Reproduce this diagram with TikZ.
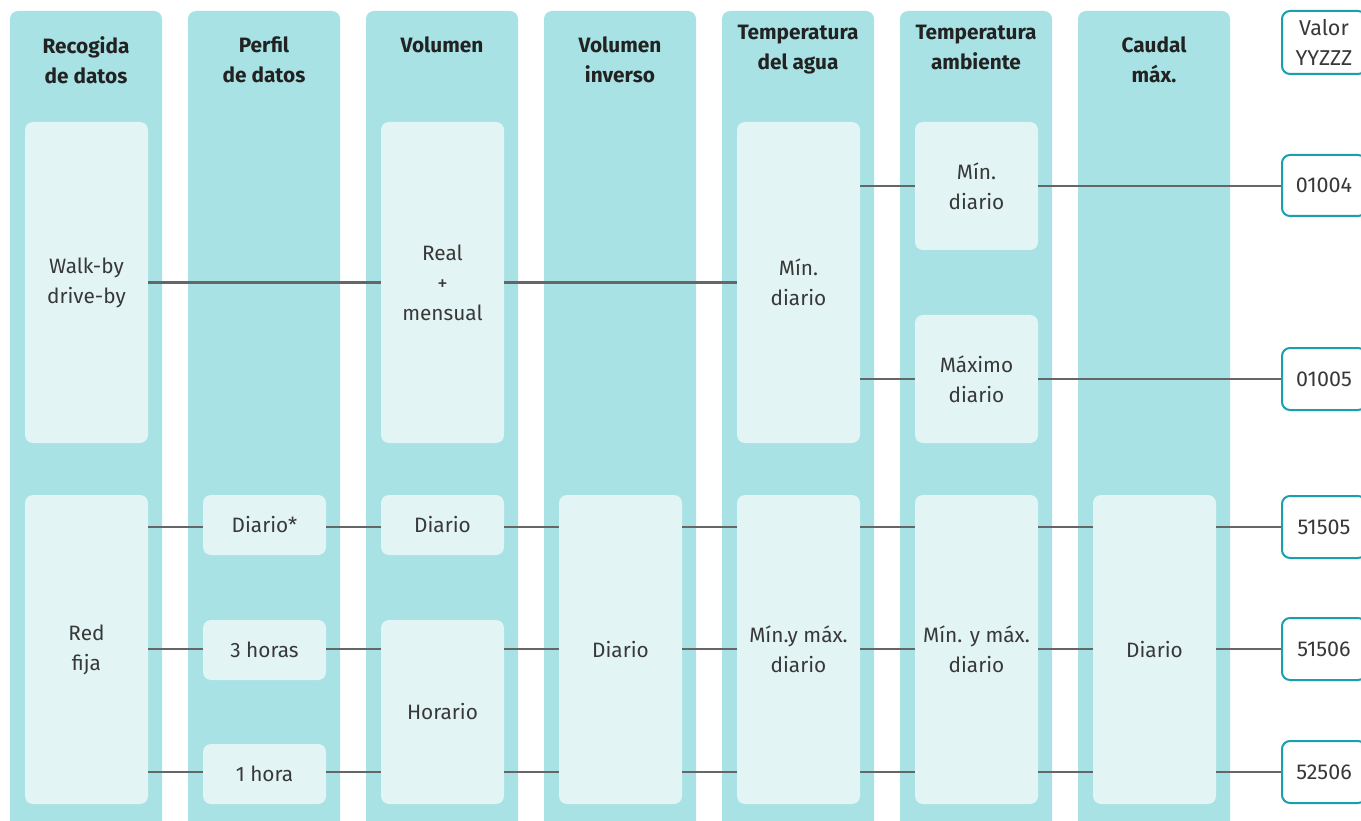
\documentclass[tikz,border=0pt]{standalone}
\usepackage{fontspec}
\setmainfont{Fira Sans}
\begin{document}
\begin{tikzpicture}[x=1pt,y=-1pt,
  colbg/.style={fill=colc,draw=none,rounded corners=8pt},
  inner/.style={fill=innerc,draw=none,rounded corners=8pt,inner sep=0pt,align=center,text=bodyc,font=\fontsize{20.8}{30}\selectfont},
  hdr/.style={align=center,text=hdrc,font=\fontsize{20.8}{30}\selectfont\bfseries},
  val/.style={draw=tealc,line width=2pt,fill=white,rounded corners=8pt,inner sep=0pt,align=center,text=bodyc,font=\fontsize{21.5}{30}\selectfont},
  conn/.style={draw=linec,line width=2.8pt}]
\definecolor{colc}{HTML}{A8E2E4}
\definecolor{innerc}{HTML}{E3F4F4}
\definecolor{bodyc}{HTML}{383838}
\definecolor{hdrc}{HTML}{222222}
\definecolor{tealc}{HTML}{1A9FAE}
\definecolor{linec}{HTML}{666666}
\useasboundingbox (0,0) rectangle (1361,821);
% columns
\foreach \i in {0,...,6}{
  \fill[colc,rounded corners=8pt] ({10+178*\i},11) rectangle ({162+178*\i},860);
}
% headers
\node[hdr] (h1) at (86,60) {Recogida\\de datos};
\node[hdr] (h2) at (264,60) {Perfil\\de datos};
\node[hdr] (h3) at (442,45) {Volumen};
\node[hdr] (h4) at (620,60) {Volumen\\inverso};
\node[hdr] (h5) at (798,50) {Temperatura\\del agua};
\node[hdr] (h6) at (976,47) {Temperatura\\ambiente};
\node[hdr] (h7) at (1154,60) {Caudal\\máx.};
% value boxes
\node[val,minimum width=84pt,minimum height=63pt] (vv) at (1324,42.5) {Valor\\YYZZZ};
\node[val,minimum width=84pt,minimum height=61pt] (v1) at (1324,185.5) {01004};
\node[val,minimum width=84pt,minimum height=62pt] (v2) at (1324,379) {01005};
\node[val,minimum width=84pt,minimum height=62pt] (v3) at (1324,527) {51505};
\node[val,minimum width=84pt,minimum height=62pt] (v4) at (1324,649) {51506};
\node[val,minimum width=84pt,minimum height=62pt] (v5) at (1324,772) {52506};
% inner boxes
\node[inner,minimum width=123pt,minimum height=321pt] (walk) at (86.5,282.5) {Walk-by\\drive-by};
\node[inner,minimum width=123pt,minimum height=309pt] (red) at (86.5,649.5) {Red\\fija};
\node[inner,minimum width=123pt,minimum height=60pt] (d2) at (264.5,525) {Diario*};
\node[inner,minimum width=123pt,minimum height=60pt] (h3h) at (264.5,650) {3 horas};
\node[inner,minimum width=123pt,minimum height=60pt] (h1h) at (264.5,774) {1 hora};
\node[inner,minimum width=123pt,minimum height=321pt] (real) at (442.5,282.5) {Real\\+\\mensual};
\node[inner,minimum width=123pt,minimum height=60pt] (d3) at (442.5,525) {Diario};
\node[inner,minimum width=123pt,minimum height=184pt] (hor) at (442.5,712) {Horario};
\node[inner,minimum width=123pt,minimum height=309pt] (d4) at (620.5,649.5) {Diario};
\node[inner,minimum width=123pt,minimum height=321pt] (m5) at (798.5,282.5) {Mín.\\diario};
\node[inner,minimum width=123pt,minimum height=309pt] (mm5) at (798.5,649.5) {Mín.y máx.\\diario};
\node[inner,minimum width=123pt,minimum height=128pt] (m6) at (976.5,186) {Mín.\\diario};
\node[inner,minimum width=123pt,minimum height=128pt] (x6) at (976.5,379) {Máximo\\diario};
\node[inner,minimum width=123pt,minimum height=309pt] (mm6) at (976.5,649.5) {Mín. y máx.\\diario};
\node[inner,minimum width=123pt,minimum height=309pt] (d7) at (1154.5,649.5) {Diario};
% connectors
\draw[conn] (walk.east) -- (real.west);
\draw[conn] (real.east) -- (m5.west);
\draw[conn] (m5.east |- m6.west) -- (m6.west);
\draw[conn] (m6.east) -- (v1.west |- m6.east);
\draw[conn] (m5.east |- x6.west) -- (x6.west);
\draw[conn] (x6.east) -- (v2.west |- x6.east);
\foreach \v/\a/\b/\c in {v3/d2/d3/mm5, v4/h3h/hor/mm5, v5/h1h/hor/mm5}{
  \draw[conn] (red.east |- \v.west) -- (\a.west |- \v.west);
  \draw[conn] (\a.east |- \v.west) -- (\b.west |- \v.west);
  \draw[conn] (\b.east |- \v.west) -- (d4.west |- \v.west);
  \draw[conn] (d4.east |- \v.west) -- (mm5.west |- \v.west);
  \draw[conn] (mm5.east |- \v.west) -- (mm6.west |- \v.west);
  \draw[conn] (mm6.east |- \v.west) -- (d7.west |- \v.west);
  \draw[conn] (d7.east |- \v.west) -- (\v.west);
}
\end{tikzpicture}
\end{document}
